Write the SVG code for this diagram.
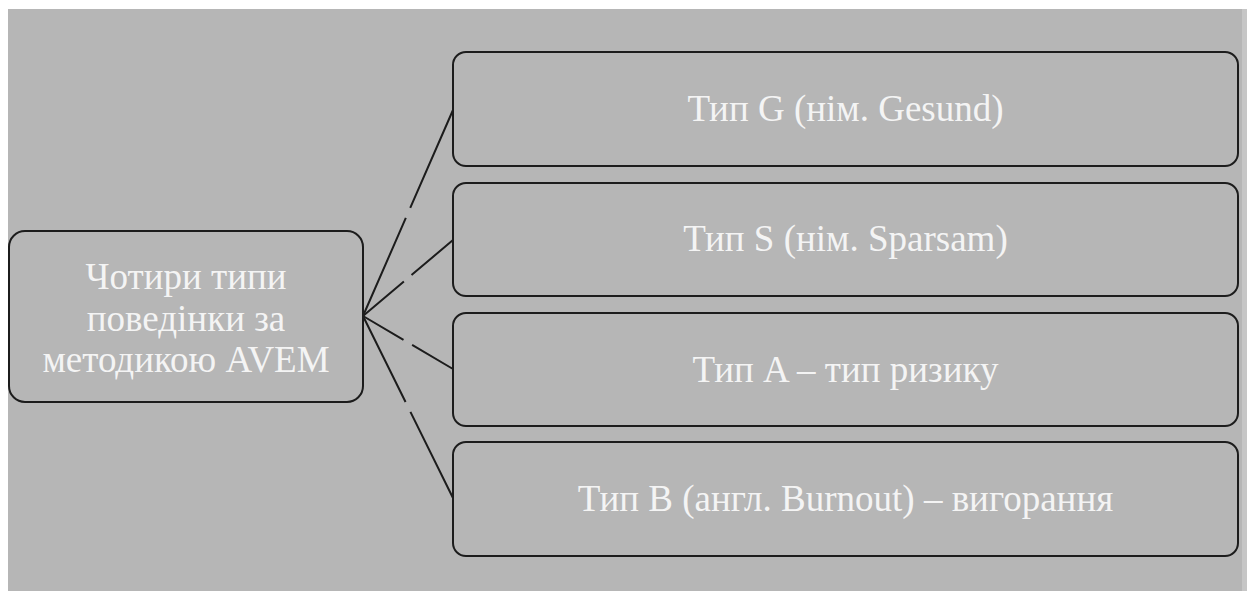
<svg xmlns="http://www.w3.org/2000/svg" width="1247" height="591" viewBox="0 0 1247 591">
  <style>
    .box { fill: #b6b6b6; stroke: #1c1c1c; stroke-width: 2; }
    .label { font-family: "Liberation Serif", "Times New Roman", serif; font-size: 37px; fill: #f4f4f4; text-anchor: middle; }
    .link { stroke: #1c1c1c; stroke-width: 2; fill: none; stroke-linecap: butt; }
  </style>

  <!-- page backdrop -->
  <rect x="0" y="0" width="1247" height="591" fill="#ffffff"/>
  <rect x="8" y="9" width="1239" height="582" fill="#b6b6b6"/>
  <rect x="1242" y="9" width="5" height="582" fill="#c6c6c6"/>

  <!-- connectors: root to each type -->
  <g id="connectors">
    <line class="link" x1="363" y1="316" x2="453" y2="110" stroke-dasharray="107 11 200"/>
    <line class="link" x1="363" y1="316" x2="453" y2="240" stroke-dasharray="53.5 10 100"/>
    <line class="link" x1="363" y1="316" x2="453" y2="369" stroke-dasharray="47 10 100"/>
    <line class="link" x1="363" y1="316" x2="453" y2="498" stroke-dasharray="96 11 200"/>
  </g>

  <!-- root node -->
  <g id="node-root">
    <rect class="box" x="9" y="231" width="354" height="171" rx="16" ry="16"/>
    <text class="label" x="186" y="289">Чотири типи</text>
    <text class="label" x="186" y="331">поведінки за</text>
    <text class="label" x="186" y="372">методикою AVEM</text>
  </g>

  <!-- behaviour types -->
  <g id="node-type-g">
    <rect class="box" x="453" y="52" width="785" height="114" rx="13" ry="13"/>
    <text class="label" x="845.5" y="121">Тип G (нім. Gesund)</text>
  </g>

  <g id="node-type-s">
    <rect class="box" x="453" y="183" width="785" height="113" rx="13" ry="13"/>
    <text class="label" x="845.5" y="251">Тип S (нім. Sparsam)</text>
  </g>

  <g id="node-type-a">
    <rect class="box" x="453" y="313" width="785" height="113" rx="13" ry="13"/>
    <text class="label" x="845.5" y="382">Тип A – тип ризику</text>
  </g>

  <g id="node-type-b">
    <rect class="box" x="453" y="442" width="785" height="114" rx="13" ry="13"/>
    <text class="label" x="845.5" y="511">Тип B (англ. Burnout) – вигорання</text>
  </g>
</svg>
